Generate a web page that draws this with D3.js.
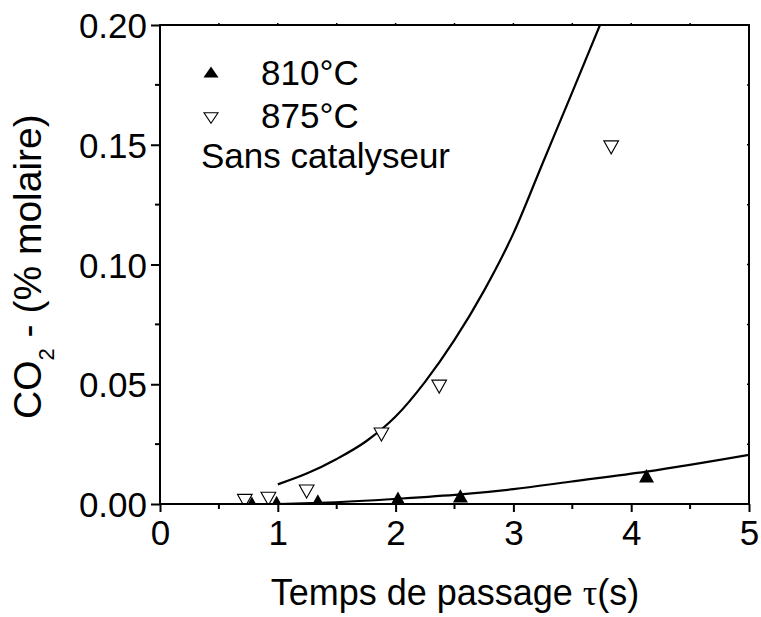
<!DOCTYPE html>
<html>
<head>
<meta charset="utf-8">
<script src="https://cdn.jsdelivr.net/npm/d3@7"></script>
<style>
  html, body { margin: 0; padding: 0; background: #fff; }
  svg { display: block; }
  text { font-family: Arial, "Liberation Sans", Helvetica, sans-serif; fill: #000; }
</style>
</head>
<body>
<svg id="chart" width="761" height="617"></svg>
<script>
// ---- data ----
const xTicks = [0, 1, 2, 3, 4, 5];
const xTickLabels = ["0", "1", "2", "3", "4", "5"];
const yTicks = [0, 0.05, 0.10, 0.15, 0.20];
const yTickLabels = ["0.00", "0.05", "0.10", "0.15", "0.20"];

// 810°C measured points (filled up-triangles)
const t810 = [0.78, 0.99, 1.34, 2.02, 2.55, 4.13];
const co2_810 = [0.0003, 0.0006, 0.0013, 0.0024, 0.0034, 0.0118];
// 875°C measured points (open down-triangles)
const t875 = [0.72, 0.92, 1.245, 1.88, 2.37, 3.83];
const co2_875 = [0.0013, 0.0022, 0.0052, 0.029, 0.049, 0.1489];

// fitted curves
const fit810X = [1.0, 1.36, 2.02, 2.55, 3.0, 3.48, 4.13, 5.0];
const fit810Y = [0.0, 0.0005, 0.0022, 0.0040, 0.0062, 0.0093, 0.0135, 0.0205];
const fit875X = [1.0, 1.25, 1.5, 1.75, 2.0, 2.25, 2.5, 2.75, 3.0, 3.25, 3.5, 3.735];
const fit875Y = [0.0082, 0.0128, 0.0188, 0.0262, 0.0365, 0.051, 0.0685, 0.089, 0.113, 0.1425, 0.172, 0.200];

const legendLabels = ["810°C", "875°C"];
const legendNote = "Sans catalyseur";

// ---- layout ----
const svg = d3.select("#chart");
const L = 160, R = 749, T = 25, B = 504;
const x = d3.scaleLinear().domain([0, 5]).range([L, R]);
const y = d3.scaleLinear().domain([0, 0.2]).range([B, T]);

svg.append("defs").append("clipPath").attr("id", "plotclip")
  .append("rect").attr("x", L).attr("y", T).attr("width", R - L).attr("height", B - T);

// triangle symbol types (bounding-box centred)
function triType(w, h, down) {
  return {
    draw(ctx) {
      const s = down ? -1 : 1;
      ctx.moveTo(0, -s * h / 2);
      ctx.lineTo(w / 2, s * h / 2);
      ctx.lineTo(-w / 2, s * h / 2);
      ctx.closePath();
    }
  };
}
const upTri = d3.symbol().type(triType(15, 13.4, false));
const downTri = d3.symbol().type(triType(14.7, 13, true));

const plot = svg.append("g").attr("clip-path", "url(#plotclip)");

const line = d3.line().x(d => x(d[0])).y(d => y(d[1])).curve(d3.curveMonotoneX);
plot.append("path")
  .datum(fit875X.map((v, i) => [v, fit875Y[i]]))
  .attr("d", line).attr("fill", "none").attr("stroke", "#000").attr("stroke-width", 2.2);
plot.append("path")
  .datum(fit810X.map((v, i) => [v, fit810Y[i]]))
  .attr("d", line).attr("fill", "none").attr("stroke", "#000").attr("stroke-width", 2.2);

plot.selectAll(".m875").data(t875.map((v, i) => [v, co2_875[i]])).join("path")
  .attr("class", "m875")
  .attr("transform", d => `translate(${x(d[0])},${y(d[1])})`)
  .attr("d", downTri).attr("fill", "#fff").attr("stroke", "#000").attr("stroke-width", 1.1);
plot.selectAll(".m810").data(t810.map((v, i) => [v, co2_810[i]])).join("path")
  .attr("class", "m810")
  .attr("transform", d => `translate(${x(d[0])},${y(d[1])})`)
  .attr("d", upTri).attr("fill", "#000");

// axes
const ax = svg.append("g");
const xAxis = d3.axisBottom(x).tickValues(xTicks).tickFormat((d, i) => xTickLabels[i]).tickSize(8).tickPadding(6);
const gx = ax.append("g").attr("transform", `translate(0,${B})`).call(xAxis);
const yAxis = d3.axisLeft(y).tickValues(yTicks).tickFormat((d, i) => yTickLabels[i]).tickSize(9).tickPadding(4);
const gy = ax.append("g").attr("transform", `translate(${L},0)`).call(yAxis);
[gx, gy].forEach(g => {
  g.select(".domain").remove();
  g.selectAll(".tick line").attr("stroke", "#000").attr("stroke-width", 2);
  g.selectAll(".tick text").attr("font-size", 35).attr("fill", "#000")
    .attr("font-family", 'Arial, "Liberation Sans", sans-serif');
});
gx.selectAll(".tick text").attr("dy", null).attr("y", 41);
gy.selectAll(".tick text").attr("dy", "0.36em").attr("x", -13);

// minor ticks
const xMinor = d3.range(0.5, 5, 1);
ax.selectAll(".xminor").data(xMinor).join("line")
  .attr("x1", d => x(d)).attr("x2", d => x(d)).attr("y1", B).attr("y2", B + 5)
  .attr("stroke", "#000").attr("stroke-width", 2);
const yMinor = d3.range(0.025, 0.2, 0.05);
ax.selectAll(".yminor").data(yMinor).join("line")
  .attr("x1", L - 5).attr("x2", L).attr("y1", d => y(d)).attr("y2", d => y(d))
  .attr("stroke", "#000").attr("stroke-width", 2);
const xAll = d3.range(0.5, 5, 0.5);
ax.selectAll(".xtop").data(xAll).join("line")
  .attr("x1", d => x(d)).attr("x2", d => x(d)).attr("y1", T).attr("y2", T - 2)
  .attr("stroke", "#000").attr("stroke-width", 1.5);
const yAll = d3.range(0.025, 0.2, 0.025);
ax.selectAll(".yright").data(yAll).join("line")
  .attr("x1", R).attr("x2", R - 2).attr("y1", d => y(d)).attr("y2", d => y(d))
  .attr("stroke", "#000").attr("stroke-width", 1.5);

// frame
ax.append("rect").attr("x", L).attr("y", T).attr("width", R - L).attr("height", B - T)
  .attr("fill", "none").attr("stroke", "#000").attr("stroke-width", 2);

// axis titles
const xt = svg.append("text").attr("x", 455).attr("y", 605).attr("text-anchor", "middle")
  .attr("font-size", 36);
xt.append("tspan").text("Temps de passage ");
xt.append("tspan").attr("font-family", '"Liberation Serif", "DejaVu Serif", serif').text("τ");
xt.append("tspan").text("(s)");

const yt = svg.append("text").attr("transform", "translate(41,419) rotate(-90)")
  .attr("text-anchor", "start").attr("font-size", 39);
yt.append("tspan").text("CO");
yt.append("tspan").attr("font-size", 22).attr("dy", 13).text("2");
yt.append("tspan").attr("dy", -13).text(" - (% molaire)");

// legend
const lg = svg.append("g");
lg.append("path").attr("transform", "translate(211,72)")
  .attr("d", d3.symbol().type(triType(15, 11, false))).attr("fill", "#000");
lg.append("path").attr("transform", "translate(211,118)")
  .attr("d", d3.symbol().type(triType(14, 10.5, true))).attr("fill", "#fff")
  .attr("stroke", "#000").attr("stroke-width", 1.1);
lg.append("text").attr("x", 261).attr("y", 85).attr("font-size", 35).text(legendLabels[0]);
lg.append("text").attr("x", 261).attr("y", 128).attr("font-size", 35).text(legendLabels[1]);
lg.append("text").attr("x", 201).attr("y", 168).attr("font-size", 35).text(legendNote);
</script>
</body>
</html>
